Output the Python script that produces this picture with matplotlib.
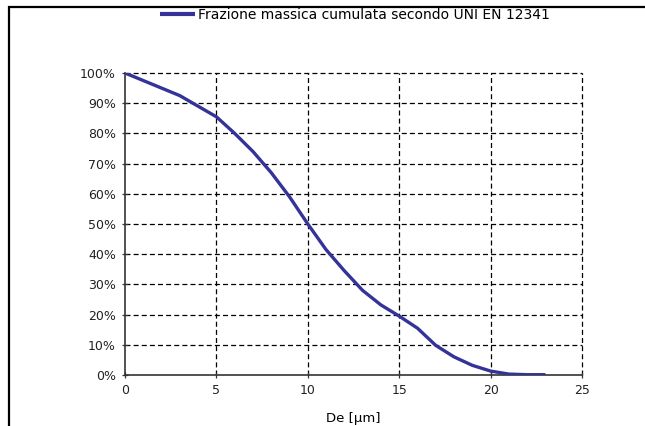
"""Cumulative mass fraction curve (UNI EN 12341)."""

import matplotlib.pyplot as plt
from matplotlib.patches import Rectangle
from matplotlib.ticker import FuncFormatter

# diameter [um] and cumulative mass fraction [%]
diameters = [0, 1, 2, 3, 4, 5, 6, 7, 8, 9, 10, 11, 12, 13, 14, 15, 16, 17,
             18, 19, 20, 21, 22, 23]
fraction = [100, 97.5, 95, 92.5, 89, 85.5, 80, 74, 67, 59, 50, 41.5, 34.5,
            28, 23.2, 19.5, 15.5, 9.8, 6, 3.2, 1.3, 0.3, 0.1, 0.1]

x_ticks = [0, 5, 10, 15, 20, 25]
y_ticks = list(range(0, 101, 10))

LINE_COLOR = '#333399'

fig = plt.figure(figsize=(6.45, 4.26), dpi=100)
ax = fig.add_axes([125 / 645, 51 / 426, 457 / 645, 302 / 426])

ax.plot(diameters, fraction, color=LINE_COLOR, linewidth=2.4,
        solid_capstyle='butt', solid_joinstyle='round',
        label='Frazione massica cumulata secondo UNI EN 12341', zorder=3)

ax.set_xlim(0, 25)
ax.set_ylim(0, 100)
ax.set_xticks(x_ticks)
ax.set_yticks(y_ticks)
ax.yaxis.set_major_formatter(FuncFormatter(lambda v, _: f'{v:.0f}%'))
ax.grid(True, color='black', linestyle=(0, (4, 2.5)), linewidth=0.9)
for gl in ax.get_xgridlines() + ax.get_ygridlines():
    gl.set_clip_on(False)
# the spines already sit on the first grid lines
ax.get_xgridlines()[0].set_visible(False)
ax.get_ygridlines()[0].set_visible(False)

for side in ('top', 'right'):
    ax.spines[side].set_visible(False)
for side in ('left', 'bottom'):
    ax.spines[side].set_color('#333333')
    ax.spines[side].set_linewidth(1.2)

ax.tick_params(axis='both', direction='inout', length=5, width=0.9,
               color='#333333', labelsize=9, labelcolor='#222222', pad=4)
ax.set_xlabel('De [µm]', fontsize=9.5, labelpad=11)

leg = ax.legend(loc='center', bbox_to_anchor=(355 / 645, 1 - 15 / 426),
                bbox_transform=fig.transFigure, frameon=False, fontsize=10,
                handlelength=2.5, handletextpad=0.2, borderaxespad=0,
                borderpad=0)
leg.get_lines()[0].set_linewidth(3)

# frame around the chart area (only top and left visible in the crop)
fig.patches.append(Rectangle((8.5 / 645, -0.1), 1.2, 1.1 - 7.5 / 426 + 0.001,
                             transform=fig.transFigure, fill=False,
                             edgecolor='black', linewidth=1.6))

fig.savefig('out.png', dpi=100)
